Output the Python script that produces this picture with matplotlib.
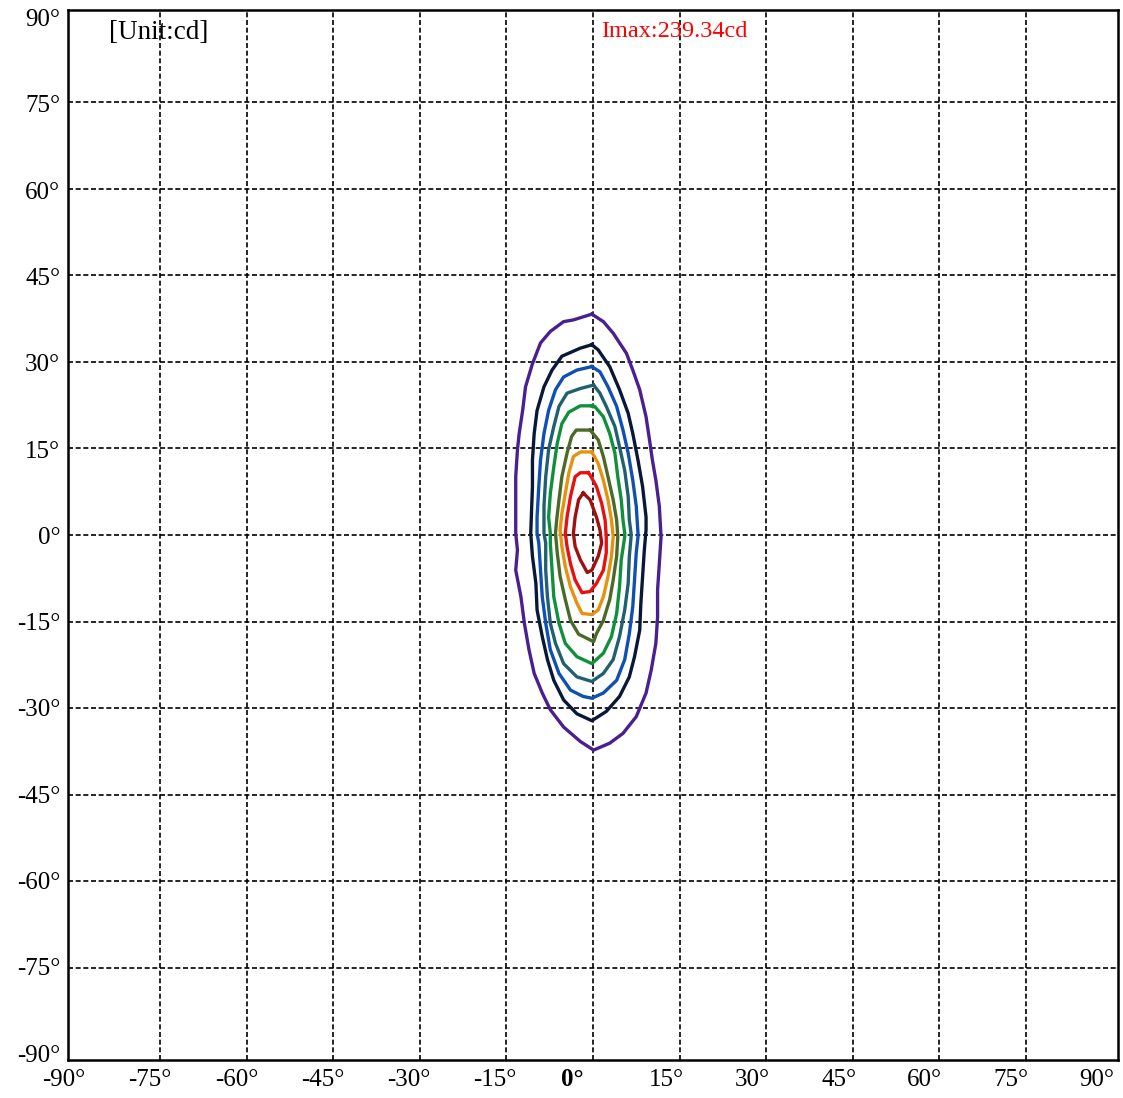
import matplotlib
matplotlib.use("Agg")
import matplotlib.pyplot as plt

plt.rcParams['font.family'] = ['Liberation Serif', 'DejaVu Serif']

# isocandela contours, outermost first (angles in degrees)
c1_x = [-0.2, -3.4, -5.1, -7.4, -9.1, -10.5, -11.7, -12.2, -12.8, -13.1, -13.4, -13.4, -13.1, -13.4, -12.5,
        -11.9, -11.1, -10.2, -8.8, -7.4, -5.1, -2.2, 0.1, 2.9, 5.2, 7.5, 9.2, 10.1, 10.9, 11.2, 11.2, 11.5,
        11.8, 11.5, 10.9, 10.3, 9.8, 9.2, 8.1, 6.9, 5.8, 3.5, 1.8]
c1_y = [38.3, 37.3, 37.0, 35.3, 33.3, 29.7, 25.7, 21.6, 17.6, 14.8, 10.1, 0.3, -2.6, -6.1, -10.7,
        -15.3, -19.9, -24.0, -27.4, -30.3, -33.3, -35.8, -37.3, -36.1, -34.4, -31.5, -27.4, -23.4, -18.8, -14.2, -9.5, -5.0,
        -0.3, 5.0, 9.5, 13.0, 16.5, 20.5, 25.2, 28.6, 31.5, 35.0, 37.0]

c2_x = [-0.2, -2.2, -5.4, -7.1, -8.5, -9.7, -10.2, -10.5, -10.5, -10.8, -10.5, -9.9, -9.7, -8.8, -7.9, -6.8,
        -5.1, -2.8, -0.2, 2.3, 4.6, 6.3, 7.2, 8.1, 8.3, 8.6, 8.9, 9.2, 9.2, 8.6, 7.8, 6.9, 6.1, 4.6, 2.9, 0.9]
c2_y = [33.0, 32.4, 31.0, 28.6, 25.7, 21.6, 17.6, 13.0, 8.4, 0.3, -3.7, -8.4, -13.0, -17.6, -21.6, -25.2,
        -28.6, -31.0, -32.2, -30.6, -28.0, -24.6, -21.1, -16.5, -11.8, -7.2, -2.6, 0.9, 3.1, 8.4, 13.0, 17.6, 21.1, 25.2, 29.2, 32.1]

c3_x = [-0.2, -2.8, -5.1, -6.5, -7.7, -8.5, -9.1, -9.4, -9.7, -9.7, -9.4, -9.1, -8.8, -8.2, -7.4, -5.9, -3.9,
        -1.7, -0.2, 1.8, 4.1, 5.5, 6.3, 6.9, 7.2, 7.5, 7.8, 7.8, 7.5, 6.9, 6.1, 5.2, 4.1, 2.6, 1.2]
c3_y = [29.2, 28.6, 27.4, 25.2, 21.6, 17.6, 13.0, 8.4, 3.1, 0.3, -1.4, -6.1, -10.7, -15.3, -19.9, -24.0, -26.9,
        -28.0, -28.3, -27.4, -25.2, -21.6, -17.1, -12.4, -7.8, -3.1, -0.3, 0.3, 5.0, 9.5, 14.2, 18.2, 22.3, 25.7, 28.3]

c4_x = [0.1, -2.2, -4.5, -5.9, -6.8, -7.7, -8.2, -8.5, -8.5, -8.2, -8.2, -7.9, -7.4, -6.5, -5.1, -2.8, -0.2,
        1.8, 3.5, 4.6, 5.5, 6.1, 6.3, 6.6, 6.6, 6.3, 6.1, 5.5, 4.6, 3.8, 2.3, 1.2]
c4_y = [26.0, 25.4, 24.6, 22.3, 18.8, 14.8, 10.1, 5.0, 0.3, -1.4, -6.1, -10.7, -15.3, -18.8, -22.3, -24.6, -25.4,
        -24.0, -21.6, -17.6, -13.0, -8.4, -3.7, -0.3, 0.3, 2.6, 6.7, 11.2, 15.3, 18.8, 22.3, 24.6]

c5_x = [-0.2, -2.2, -4.2, -5.4, -6.2, -6.8, -7.4, -7.7, -7.4, -7.4, -7.1, -6.8, -5.9, -4.8, -2.8, -0.2,
        1.8, 3.2, 4.1, 4.6, 4.9, 5.5, 5.5, 5.2, 4.9, 4.3, 3.8, 2.9, 1.8, 0.3]
c5_y = [22.4, 22.4, 21.3, 19.3, 15.9, 11.8, 7.2, 3.1, 0.3, -1.4, -6.1, -10.7, -15.3, -18.8, -21.1, -22.3,
        -20.5, -17.6, -13.6, -9.0, -4.3, -0.3, 0.3, 2.6, 6.1, 10.1, 14.2, 17.6, 20.5, 22.3]

c6_x = [-0.5, -2.9, -3.7, -4.5, -5.4, -5.9, -6.3, -6.5, -6.2, -5.7, -4.8, -3.9, -2.5, 0.1,
        0.6, 1.8, 2.9, 3.5, 4.1, 4.3, 4.1, 3.5, 2.6, 1.8, 0.9]
c6_y = [18.2, 18.2, 17.1, 14.2, 10.1, 6.1, 2.6, 0.3, -3.1, -7.2, -11.2, -14.8, -17.2, -18.5,
        -17.1, -14.8, -11.2, -7.8, -3.7, -0.3, 2.6, 6.1, 10.1, 13.6, 16.5]

c7_x = [-0.2, -2.2, -3.4, -4.2, -4.8, -5.4, -5.7, -5.4, -4.8, -3.9, -2.8, -1.9, -0.2,
        0.9, 1.8, 2.6, 3.2, 3.5, 3.2, 2.6, 1.8, 0.9]
c7_y = [14.4, 14.4, 13.6, 10.7, 7.2, 3.7, 0.9, -2.0, -5.5, -9.0, -11.8, -13.6, -13.8,
        -13.0, -10.7, -7.2, -3.7, -0.3, 2.6, 6.1, 9.5, 12.4]

c8_x = [-0.8, -2.2, -3.1, -3.9, -4.5, -4.8, -4.5, -3.9, -3.1, -1.9, -0.5, 0.6, 1.8, 2.3, 2.3, 2.1, 1.5, 0.6, -0.5]
c8_y = [10.8, 10.8, 10.1, 6.7, 3.1, 0.3, -2.0, -5.0, -7.8, -10.0, -9.8, -8.4, -6.1, -3.1, -0.3, 2.6, 5.5, 8.4, 10.4]

c9_x = [-1.7, -2.5, -3.1, -3.4, -3.1, -2.2, -1.0, -0.2, 0.9, 1.5, 1.2, 0.6, -0.5]
c9_y = [7.3, 6.1, 3.1, 0.3, -2.0, -4.3, -6.5, -6.1, -3.7, -1.4, 0.9, 3.1, 6.1]

contour_x = [c1_x, c2_x, c3_x, c4_x, c5_x, c6_x, c7_x, c8_x, c9_x]
contour_y = [c1_y, c2_y, c3_y, c4_y, c5_y, c6_y, c7_y, c8_y, c9_y]
colors = ['#4a2090', '#0a1838', '#1050b0', '#206070', '#10903a', '#4a6a28', '#e89010', '#e81010', '#a01010']

ticks = list(range(-90, 91, 15))
tick_labels = [f'{t}°' for t in ticks]

fig = plt.figure(figsize=(11.23, 10.98), dpi=100)
ax = fig.add_axes([68 / 1123, 1 - 1060 / 1098, 1050 / 1123, 1050 / 1098])
# frame sits a little outside the +-90 range
ax.set_xlim(-91.04, 91.04)
ax.set_ylim(-91.04, 91.04)

# dashed grid every 15 degrees
for t in ticks[1:-1]:
    ax.axvline(t, color='black', lw=1.2, ls=(0, (3, 1.6)), zorder=1)
    ax.axhline(t, color='black', lw=1.2, ls=(0, (3, 1.6)), zorder=1)

for xs, ys, c in zip(contour_x, contour_y, colors):
    ax.plot(xs + xs[:1], ys + ys[:1], color=c, lw=2.4, zorder=3, solid_joinstyle='round')

ax.set_xticks([])
ax.set_yticks([])
for s in ax.spines.values():
    s.set_linewidth(1.8)

# tick labels are spaced slightly tighter than the grid in the original
for i, t in enumerate(ticks):
    lx = -91.7 + (t + 90) * 0.995
    if t == 0:
        lx -= 1.4
    ax.text(lx, -94.5, tick_labels[i], ha='center', va='center', fontsize=18,
            fontweight='bold' if t == 0 else 'normal')
    ly = -90.3 + (t + 90) * 0.9978
    ax.text(-92.4, ly, tick_labels[i], ha='right', va='center', fontsize=18)

ax.text(-75.4, 87.2, '[Unit:cd]', ha='center', va='center', fontsize=19.5)
ax.text(1.4, 87.3, 'Imax:239.34cd', ha='left', va='center', fontsize=17.5, color='red')

fig.savefig('out.png', dpi=100)
